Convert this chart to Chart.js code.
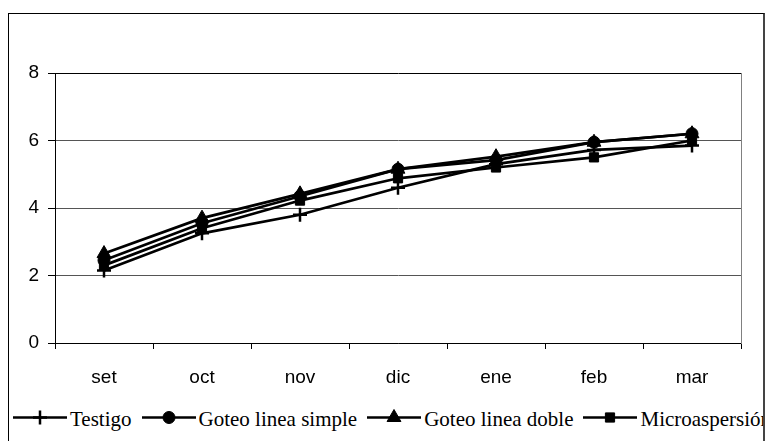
<!DOCTYPE html>
<html>
<head>
<meta charset="utf-8">
<script src="https://cdn.jsdelivr.net/npm/chart.js@4.4.1/dist/chart.umd.min.js"></script>
<style>
  body { margin: 0; background: #fff; }
  #wrap { position: relative; width: 766px; height: 441px; overflow: hidden; }
  #frame {
    position: absolute; left: 8px; top: 13px; width: 754px; height: 440px;
    border: 1px solid #000; border-right: 2px solid #444; overflow: hidden;
  }
  #chart { position: absolute; left: 0; top: 0; }
  #legend {
    position: absolute; left: 4px; top: 393px; white-space: nowrap;
    font: 21px "Liberation Serif", "Times New Roman", serif; line-height: 24px; color: #000;
  }
  #legend .item { display: inline-block; margin-right: 10px; }
  #legend canvas { vertical-align: top; margin-right: 3px; }
</style>
</head>
<body>
<div id="wrap">
  <div id="frame"><div id="legend"></div></div>
  <canvas id="chart" width="766" height="400"></canvas>
</div>
<script>
// months on the x axis
const months = ["set", "oct", "nov", "dic", "ene", "feb", "mar"];

// series values
const testigo      = [2.15, 3.25, 3.8, 4.6, 5.3, 5.72, 5.85];
const goteoSimple  = [2.45, 3.55, 4.35, 5.15, 5.42, 5.95, 6.2];
const goteoDoble   = [2.65, 3.7, 4.42, 5.15, 5.52, 5.95, 6.2];
const microasp     = [2.3, 3.4, 4.22, 4.88, 5.2, 5.5, 6.0];

// y axis
const yMin = 0;
const yMax = 8;
const yStep = 2;

const axisFont = { family: "'Liberation Sans', Arial, sans-serif", size: 19 };

function series(label, data, style, radius, bw) {
  return {
    label: label,
    data: data,
    borderColor: "#000",
    backgroundColor: "#000",
    borderWidth: 2.7,
    pointStyle: style,
    pointRadius: radius,
    pointHoverRadius: radius,
    pointBackgroundColor: "#000",
    pointBorderColor: "#000",
    pointBorderWidth: bw,
    tension: 0,
    fill: false,
  };
}

const chart = new Chart(document.getElementById("chart"), {
  type: "line",
  data: {
    labels: months,
    datasets: [
      series("Testigo", testigo, "cross", 7, 2.5),
      series("Goteo linea simple", goteoSimple, "circle", 6, 1),
      series("Goteo linea doble", goteoDoble, "triangle", 8, 1),
      series("Microaspersión", microasp, "rect", 6.5, 1),
    ],
  },
  options: {
    responsive: false,
    animation: false,
    layout: { padding: { top: 73, right: 25, left: 0, bottom: 0 } },
    plugins: {
      legend: { display: false },
      tooltip: { enabled: false },
    },
    scales: {
      x: {
        offset: true,
        grid: { offset: true, drawOnChartArea: false, drawTicks: true, tickLength: 6, color: "#000" },
        border: { color: "#000", width: 1 },
        ticks: { font: axisFont, color: "#000", padding: 17, maxRotation: 0 },
        afterFit: (s) => { s.height = 57; },
      },
      y: {
        min: yMin,
        max: yMax,
        ticks: { stepSize: yStep, font: axisFont, color: "#000", padding: 9 },
        grid: {
          color: (c) => (c.tick && c.tick.value === yMax ? "#000" : "#555"),
          tickColor: "#000",
          tickLength: 7,
          lineWidth: 1,
        },
        border: { color: "#000", width: 1 },
        afterFit: (s) => { s.width = 55; },
      },
      yR: {
        position: "right",
        min: yMin,
        max: yMax,
        ticks: { display: false },
        grid: { drawOnChartArea: false, drawTicks: false },
        border: { color: "#808080", width: 1 },
        afterFit: (s) => { s.width = 0; },
      },
    },
  },
});

// html legend: line with marker, then label
const legendEl = document.getElementById("legend");
chart.data.datasets.forEach((ds) => {
  const item = document.createElement("span");
  item.className = "item";
  const c = document.createElement("canvas");
  c.width = 54;
  c.height = 24;
  const ctx = c.getContext("2d");
  ctx.strokeStyle = "#000";
  ctx.fillStyle = "#000";
  ctx.lineWidth = 2.7;
  ctx.beginPath();
  ctx.moveTo(0, 10.5);
  ctx.lineTo(54, 10.5);
  ctx.stroke();
  if (Chart.helpers && Chart.helpers.drawPoint) {
    ctx.lineWidth = ds.pointBorderWidth;
    Chart.helpers.drawPoint(ctx, {
      pointStyle: ds.pointStyle,
      radius: ds.pointRadius,
      borderWidth: ds.pointBorderWidth,
      rotation: 0,
    }, 27, 10.5);
  }
  item.appendChild(c);
  item.appendChild(document.createTextNode(ds.label));
  legendEl.appendChild(item);
});
</script>
</body>
</html>
